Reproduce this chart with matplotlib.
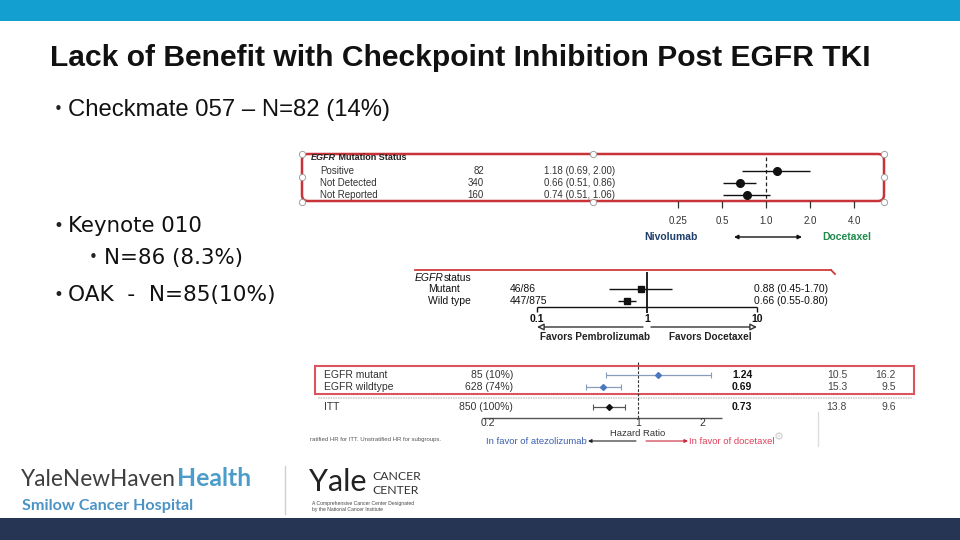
import matplotlib
matplotlib.use("Agg")
import matplotlib.pyplot as plt
import numpy as np
from matplotlib.patches import FancyBboxPatch, Rectangle

# ---------------- data ----------------
title = "Lack of Benefit with Checkpoint Inhibition Post EGFR TKI"
bullet_checkmate = "Checkmate 057 \u2013 N=82 (14%)"
bullet_keynote = "Keynote 010"
bullet_keynote_sub = "N=86 (8.3%)"
bullet_oak = "OAK  -  N=85(10%)"

# Checkmate 057
cm_header = ("EGFR", " Mutation Status")
cm_labels = ["Positive", "Not Detected", "Not Reported"]
cm_n = [82, 340, 160]
cm_hr = [1.18, 0.66, 0.74]
cm_lo = [0.69, 0.51, 0.51]
cm_hi = [2.00, 0.86, 1.06]
cm_ticks = [0.25, 0.5, 1.0, 2.0, 4.0]
cm_ticklabels = ["0.25", "0.5", "1.0", "2.0", "4.0"]
cm_left_lbl, cm_right_lbl = "Nivolumab", "Docetaxel"

# Keynote 010
kn_header = ("EGFR", "status")
kn_labels = ["Mutant", "Wild type"]
kn_n = ["46/86", "447/875"]
kn_hr = [0.88, 0.66]
kn_lo = [0.45, 0.55]
kn_hi = [1.70, 0.80]
kn_ticks = [0.1, 1, 10]
kn_ticklabels = ["0.1", "1", "10"]
kn_left_lbl, kn_right_lbl = "Favors Pembrolizumab", "Favors Docetaxel"

# OAK
oak_labels = ["EGFR mutant", "EGFR wildtype", "ITT"]
oak_n = ["85 (10%)", "628 (74%)", "850 (100%)"]
oak_hr = [1.24, 0.69, 0.73]
oak_lo = [0.71, 0.57, 0.62]
oak_hi = [2.18, 0.83, 0.87]
oak_os_atezo = [10.5, 15.3, 13.8]
oak_os_doc = [16.2, 9.5, 9.6]
oak_ticks = [0.2, 1, 2]
oak_ticklabels = ["0.2", "1", "2"]
oak_axis_label = "Hazard Ratio"
oak_left_lbl, oak_right_lbl = "In favor of atezolizumab", "In favor of docetaxel"
oak_footnote = "ratified HR for ITT. Unstratified HR for subgroups."

# ---------------- figure ----------------
W, H = 960, 540
fig = plt.figure(figsize=(9.6, 5.4), dpi=100)
fig.patch.set_facecolor("white")
bg = fig.add_axes([0, 0, 1, 1])
bg.set_xlim(0, W)
bg.set_ylim(H, 0)
bg.axis("off")
renderer = fig.canvas.get_renderer()

SANS = ["Liberation Sans", "DejaVu Sans"]
LATO = ["Lato", "DejaVu Sans"]


def T(x, y, s, **kw):
    kw.setdefault("va", "center")
    kw.setdefault("family", SANS)
    return bg.text(x, y, s, **kw)


def right_edge(t):
    return t.get_window_extent(renderer=renderer).x1


def forest_axes(px_left, px_right, px_one, px_per_decade):
    ax = fig.add_axes([px_left / W, 0, (px_right - px_left) / W, 1])
    ax.set_xscale("log")
    ax.set_xlim(10 ** ((px_left - px_one) / px_per_decade),
                10 ** ((px_right - px_one) / px_per_decade))
    ax.set_ylim(H, 0)
    ax.axis("off")
    ax.patch.set_alpha(0)
    return ax


# bands
bg.add_patch(Rectangle((0, 0), W, 21, color="#139fd0", lw=0))
bg.add_patch(Rectangle((0, 518), W, 22, color="#263553", lw=0))

# title and bullets
T(50, 58, title, fontsize=21.6, weight="bold", color="#111111")
T(54, 110, "\u2022", fontsize=11, color="#222222", family=["DejaVu Sans"])
T(68, 110, bullet_checkmate, fontsize=17.2, color="#111111")
T(53, 226, "\u2022", fontsize=12, color="#222222", family=["DejaVu Sans"])
T(68, 226, bullet_keynote, fontsize=15.4, color="#111111", family=["DejaVu Sans"])
T(89, 258, "\u2022", fontsize=11, color="#222222", family=["DejaVu Sans"])
T(104, 258, bullet_keynote_sub, fontsize=15.4, color="#111111", family=["DejaVu Sans"])
T(53, 295, "\u2022", fontsize=12, color="#222222", family=["DejaVu Sans"])
T(68, 295, bullet_oak, fontsize=15.6, color="#111111", family=["DejaVu Sans"])

# ================= Checkmate 057 =================
box = FancyBboxPatch((302, 154), 582, 47, boxstyle="round,pad=0,rounding_size=6",
                     fc="none", ec="#c8333a", lw=1.8, zorder=3)
bg.add_patch(box)
for hx, hy in [(302, 154), (593, 154), (884, 154), (302, 177), (884, 177),
               (302, 202), (593, 202), (884, 202)]:
    bg.plot(hx, hy, "o", ms=4.5, mfc="white", mec="#a0a0a0", mew=0.7, zorder=4)

t = T(311, 158, cm_header[0], fontsize=6.5, weight="bold", style="italic", color="#222222")
T(right_edge(t), 158, cm_header[1], fontsize=6.5, weight="bold", color="#222222")
cm_y = [171, 183, 195]
for y, lab, n, hr, lo, hi in zip(cm_y, cm_labels, cm_n, cm_hr, cm_lo, cm_hi):
    T(320, y, lab, fontsize=7, color="#333333")
    T(484, y, str(n), fontsize=7, color="#333333", ha="right")
    T(544, y, f"{hr:.2f} ({lo:.2f}, {hi:.2f})", fontsize=7, color="#333333")

ax1 = forest_axes(630, 890, 766, 44 / np.log10(2))
ax1.vlines(1.0, 157, 200, colors="#222222", lw=0.9, linestyles=(0, (3, 2)), zorder=2)
ax1.hlines(cm_y, cm_lo, cm_hi, colors="#111111", lw=1.0, zorder=3)
ax1.plot(cm_hr, cm_y, "o", color="#111111", ms=5.5, zorder=4)
ax1.vlines(cm_ticks, 201, 208, colors="#333333", lw=0.9)
for tk, tl in zip(cm_ticks, cm_ticklabels):
    ax1.text(tk, 221, tl, ha="center", va="center", fontsize=7, color="#333333",
             family=SANS)
T(644, 237, cm_left_lbl, fontsize=7.5, weight="bold", color="#1f3d6b")
T(822, 237, cm_right_lbl, fontsize=7.5, weight="bold", color="#1f8a4c")
bg.annotate("", xy=(734, 237), xytext=(802, 237),
            arrowprops=dict(arrowstyle="<|-|>", color="#111111", lw=1.0,
                            mutation_scale=6, shrinkA=0, shrinkB=0))

# ================= Keynote 010 =================
bg.plot([415, 831], [270, 270], color="#d23a3a", lw=1.3)
bg.plot([831, 835], [270, 274], color="#d23a3a", lw=1.3)
t = T(415, 278, kn_header[0], fontsize=7.5, style="italic", color="#111111")
T(right_edge(t), 278, kn_header[1], fontsize=7.5, color="#111111")
kn_y = [289, 301]
for y, lab, n, hr, lo, hi in zip(kn_y, kn_labels, kn_n, kn_hr, kn_lo, kn_hi):
    T(428, y, lab, fontsize=7.5, color="#111111")
    T(510, y, n, fontsize=7.5, color="#111111")
    T(828, y, f"{hr:.2f} ({lo:.2f}-{hi:.2f})", fontsize=7.5, color="#111111", ha="right")

ax2 = forest_axes(520, 780, 647, 110)
ax2.vlines(1, 272, 313, colors="#111111", lw=1.3)
ax2.hlines(307, kn_ticks[0], kn_ticks[-1], colors="#111111", lw=1.0)
ax2.vlines([kn_ticks[0], kn_ticks[-1]], 307, 312, colors="#111111", lw=1.0)
ax2.hlines(kn_y, kn_lo, kn_hi, colors="#111111", lw=1.0)
ax2.plot(kn_hr, kn_y, "s", color="#111111", ms=4.5)
for tk, tl in zip(kn_ticks, kn_ticklabels):
    ax2.text(tk, 319, tl, ha="center", va="center", fontsize=7.5, weight="bold",
             color="#111111", family=SANS)
bg.annotate("", xy=(537, 327), xytext=(643, 327),
            arrowprops=dict(arrowstyle="-|>", fc="white", ec="#333333", lw=1.0,
                            mutation_scale=10, shrinkA=0, shrinkB=0))
bg.annotate("", xy=(757, 327), xytext=(651, 327),
            arrowprops=dict(arrowstyle="-|>", fc="white", ec="#333333", lw=1.0,
                            mutation_scale=10, shrinkA=0, shrinkB=0))
T(595, 337, kn_left_lbl, fontsize=7.2, weight="bold", color="#222222", ha="center")
T(710, 337, kn_right_lbl, fontsize=7.2, weight="bold", color="#222222", ha="center")

# ================= OAK =================
bg.add_patch(Rectangle((315, 366), 599, 28, fc="none", ec="#d9545c", lw=1.5, zorder=3))
bg.plot([318, 912], [398, 398], color="#d0d0d0", lw=1.2, ls=(0, (1, 0.5)))
bg.plot([818, 818], [412, 446], color="#dddddd", lw=1.0)
oak_y = [375, 387, 407]
for y, lab, n, hr, a, d in zip(oak_y, oak_labels, oak_n, oak_hr, oak_os_atezo, oak_os_doc):
    T(324, y, lab, fontsize=7.5, color="#333333")
    T(513, y, n, fontsize=7.5, color="#333333", ha="right")
    T(732, y, f"{hr:.2f}", fontsize=7.5, weight="bold", color="#111111")
    T(847, y, f"{a}", fontsize=7.5, color="#444444", ha="right")
    T(896, y, f"{d}", fontsize=7.5, color="#444444", ha="right")

ax3 = forest_axes(470, 730, 638, 215)
ax3.vlines(1, 362, 418, colors="#333333", lw=0.8, linestyles=(0, (2.5, 1.5)))
ax3.hlines(418, 10 ** ((483 - 638) / 215), 10 ** ((722 - 638) / 215), colors="#555555", lw=1.0)
oak_line_colors = ["#8a9cbc", "#8a9cbc", "#555555"]
oak_marker_colors = ["#4a78c0", "#4a78c0", "#111111"]
for y, hr, lo, hi, lc, mc in zip(oak_y, oak_hr, oak_lo, oak_hi, oak_line_colors, oak_marker_colors):
    ax3.errorbar([hr], [y], xerr=[[hr - lo], [hi - hr]], fmt="none", ecolor=lc,
                 elinewidth=0.9, capsize=2, capthick=0.8)
    ax3.plot([hr], [y], "D", color=mc, ms=3)
for tk, tl in zip(oak_ticks, oak_ticklabels):
    ax3.text(tk, 423, tl, ha="center", va="center", fontsize=7.5, color="#333333",
             family=SANS)
T(638, 434, oak_axis_label, fontsize=6.8, color="#333333", ha="center")
bg.annotate("", xy=(588, 441), xytext=(636, 441),
            arrowprops=dict(arrowstyle="-|>", color="#222222", lw=0.8,
                            mutation_scale=5, shrinkA=0, shrinkB=0))
bg.annotate("", xy=(688, 441), xytext=(646, 441),
            arrowprops=dict(arrowstyle="-|>", color="#c8283c", lw=0.8,
                            mutation_scale=5, shrinkA=0, shrinkB=0))
T(587, 441, oak_left_lbl, fontsize=6.8, color="#3b5fb0", ha="right")
T(689, 441, oak_right_lbl, fontsize=6.8, color="#e0405a")
T(310, 440, oak_footnote, fontsize=4.3, color="#555555")
T(779, 437, "\u2699", fontsize=8, color="#cccccc", ha="center", family=["DejaVu Sans"])

# ================= footer logos =================
t = T(21, 479, "YaleNewHaven", fontsize=16.3, color="#3f3f3f", family=LATO)
T(right_edge(t) + 1, 479, "Health", fontsize=17.8, color="#4b9cc9", weight="bold",
  family=LATO)
T(22, 506, "Smilow Cancer Hospital", fontsize=11.6, color="#4b93c4", weight="bold",
  family=LATO)
bg.plot([285, 285], [466, 514], color="#d0d0d0", lw=1.0)
T(309, 482, "Yale", fontsize=22, color="#222222", family=LATO)
T(372, 476, "CANCER", fontsize=8.8, color="#333333", family=LATO)
T(372, 490, "CENTER", fontsize=8.8, color="#333333", family=LATO)
T(312, 503, "A Comprehensive Cancer Center Designated", fontsize=3.6, color="#444444")
T(312, 509, "by the National Cancer Institute", fontsize=3.6, color="#444444")

fig.savefig("out.png", dpi=100)
